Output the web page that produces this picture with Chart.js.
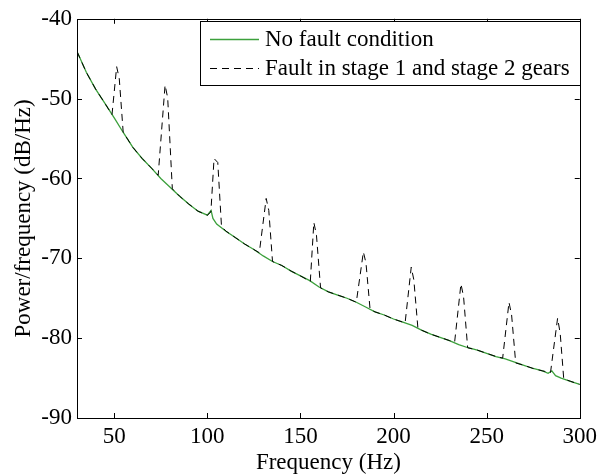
<!DOCTYPE html>
<html>
<head>
<meta charset="utf-8">
<script src="https://cdn.jsdelivr.net/npm/chart.js@4.4.1/dist/chart.umd.min.js"></script>
<style>
html,body{margin:0;padding:0;background:#fff;}
#wrap{width:602px;height:474px;position:relative;}
</style>
</head>
<body>
<div id="wrap"><canvas id="c" width="602" height="474"></canvas></div>
<script>
// ---- data ----
const seriesLabels = ["No fault condition", "Fault in stage 1 and stage 2 gears"];

const noFaultFreq = [30,35,40,45,50,55,60,65,70,75,80,85,90,95,100,102,103,105,110,115,120,125,130,135,140,145,150,155,160,165,170,175,180,185,190,195,200,205,210,215,220,225,230,235,240,245,250,255,260,265,270,275,280,283,285,287,290,295,300];
const noFaultDb   = [-44.1,-46.7,-48.8,-50.6,-52.4,-54.3,-56.1,-57.5,-58.7,-60.0,-61.1,-62.2,-63.2,-64.1,-64.6,-64.0,-65.0,-65.7,-66.6,-67.4,-68.2,-68.9,-69.7,-70.4,-70.9,-71.6,-72.2,-72.8,-73.6,-74.2,-74.6,-75.0,-75.5,-76.1,-76.7,-77.1,-77.6,-78.0,-78.4,-79.0,-79.5,-79.9,-80.3,-80.8,-81.2,-81.5,-81.9,-82.3,-82.6,-83.0,-83.4,-83.8,-84.1,-84.4,-84.1,-84.7,-85.0,-85.4,-85.8];

const faultFreq = [30,35,40,45,
  48.8,51.3,52.7,54.8,
  60,65,70,
  73.6,77.3,78.7,81.2,
  85,90,95,100,
  101.9,103.6,105.6,107.6,
  110,115,120,125,
  127.9,131.6,133.0,135.0,
  140,145,150,
  155.3,157.2,158.6,160.8,
  165,170,175,
  180.0,183.8,185.2,187.4,
  190,195,200,205,
  206.2,209.5,210.9,213.1,
  215,220,225,230,
  232.8,236.2,237.6,239.8,
  245,250,255,
  258.6,262.0,263.4,265.6,
  270,275,280,
  284.3,288.1,289.5,291.4,
  295,300];
const faultDb = [-44.1,-46.7,-48.8,-50.6,
  -52.0,-46.0,-47.5,-54.2,
  -56.1,-57.5,-58.7,
  -59.6,-48.3,-49.9,-61.3,
  -62.2,-63.2,-64.1,-64.6,
  -64.2,-57.5,-58.0,-66.0,
  -66.6,-67.4,-68.2,-68.9,
  -69.3,-62.5,-64.0,-70.4,
  -70.9,-71.6,-72.2,
  -72.9,-65.5,-67.1,-73.7,
  -74.2,-74.6,-75.0,
  -75.5,-69.2,-70.6,-76.4,
  -76.7,-77.1,-77.6,-78.0,
  -78.1,-71.1,-72.7,-78.8,
  -79.0,-79.5,-79.9,-80.3,
  -80.5,-73.2,-74.8,-81.2,
  -81.5,-81.9,-82.3,
  -82.5,-75.5,-77.1,-83.1,
  -83.4,-83.8,-84.1,
  -84.3,-77.5,-79.4,-85.1,
  -85.4,-85.8];

const xTicks = [50,100,150,200,250,300];
const yTicks = [-90,-80,-70,-60,-50,-40];
const xTitle = "Frequency (Hz)";
const yTitle = "Power/frequency (dB/Hz)";

// ---- chart ----
const FONT = "'Liberation Serif','Times New Roman',serif";
const FS = 23;
const GREEN = '#3ca03c';

const toPts = (xs, ys) => xs.map((x, i) => ({x: x, y: ys[i]}));

const framePlugin = {
  id: 'frame',
  afterDatasetsDraw(chart) {
    const {ctx, chartArea: a, scales} = chart;
    ctx.save();
    ctx.strokeStyle = '#000';
    ctx.lineWidth = 1;
    const L = 5;
    ctx.beginPath();
    scales.x.ticks.forEach(t => {
      const px = Math.round(scales.x.getPixelForValue(t.value)) + 0.5;
      ctx.moveTo(px, a.bottom); ctx.lineTo(px, a.bottom - L);
      ctx.moveTo(px, a.top); ctx.lineTo(px, a.top + L);
    });
    scales.y.ticks.forEach(t => {
      const py = Math.round(scales.y.getPixelForValue(t.value)) + 0.5;
      ctx.moveTo(a.left, py); ctx.lineTo(a.left + L, py);
      ctx.moveTo(a.right, py); ctx.lineTo(a.right - L, py);
    });
    ctx.stroke();
    ctx.strokeRect(Math.round(a.left) + 0.5, Math.round(a.top) + 0.5,
                   Math.round(a.right - a.left), Math.round(a.bottom - a.top));

    // legend box
    const bx = 200.5, by = 21.5, bw = 380, bh = 64;
    ctx.fillStyle = '#fff';
    ctx.fillRect(bx, by, bw, bh);
    ctx.strokeRect(bx, by, bw, bh);
    const rows = [39, 68];
    chart.data.datasets.forEach((ds) => {
      const y = rows[ds.legendRow] + 0.5;
      ctx.save();
      ctx.strokeStyle = ds.borderColor;
      ctx.lineWidth = ds.legendRow === 0 ? 1.5 : 1;
      ctx.setLineDash(ds.borderDash || []);
      ctx.beginPath();
      ctx.moveTo(210, y); ctx.lineTo(259, y);
      ctx.stroke();
      ctx.restore();
      ctx.fillStyle = '#000';
      ctx.font = FS + 'px ' + FONT;
      ctx.textBaseline = 'middle';
      ctx.textAlign = 'left';
      ctx.fillText(ds.label, 265, y);
    });
    ctx.restore();
  }
};

new Chart(document.getElementById('c'), {
  type: 'line',
  data: {
    datasets: [
      {
        label: seriesLabels[1],
        data: toPts(faultFreq, faultDb),
        borderColor: '#000',
        borderWidth: 1,
        borderDash: [7, 5],
        pointRadius: 0,
        tension: 0,
        fill: false,
        order: 0,
        legendRow: 1
      },
      {
        label: seriesLabels[0],
        data: toPts(noFaultFreq, noFaultDb),
        borderColor: GREEN,
        borderWidth: 1.3,
        pointRadius: 0,
        tension: 0,
        fill: false,
        order: 1,
        legendRow: 0
      }
    ]
  },
  options: {
    responsive: false,
    animation: false,
    devicePixelRatio: 1,
    layout: {padding: {top: 13, right: 19, left: 0, bottom: 0}},
    plugins: {legend: {display: false}, tooltip: {enabled: false}},
    scales: {
      x: {
        type: 'linear',
        min: 30, max: 300,
        afterBuildTicks: s => { s.ticks = xTicks.map(v => ({value: v})); },
        afterFit: s => { s.height = 56; },
        grid: {display: false, drawTicks: false},
        border: {display: false},
        ticks: {color: '#000', font: {family: FONT, size: FS}, padding: 5, maxRotation: 0, autoSkip: false},
        title: {display: true, text: xTitle, color: '#000', font: {family: FONT, size: FS, lineHeight: 1}, padding: {top: 0, bottom: 0}}
      },
      y: {
        type: 'linear',
        min: -90, max: -40,
        afterBuildTicks: s => { s.ticks = yTicks.map(v => ({value: v})); },
        afterFit: s => { s.width = 77; },
        grid: {display: false, drawTicks: false},
        border: {display: false},
        ticks: {color: '#000', font: {family: FONT, size: FS}, padding: 5, autoSkip: false},
        title: {display: true, text: yTitle, color: '#000', font: {family: FONT, size: FS, lineHeight: 1}, padding: {top: 12, bottom: 0}}
      }
    }
  },
  plugins: [framePlugin]
});
</script>
</body>
</html>
